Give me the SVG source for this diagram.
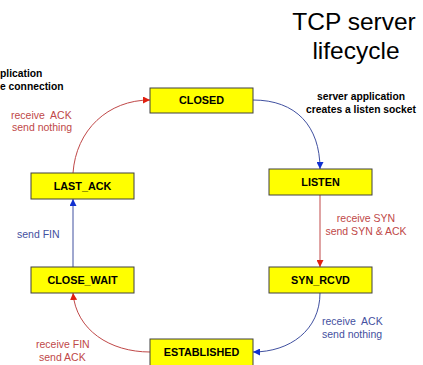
<svg xmlns="http://www.w3.org/2000/svg" width="423" height="365" viewBox="0 0 423 365">
  <style>
    .box { fill: #ffff00; stroke: #404040; stroke-width: 1; }
    .lbl { font-family: "Liberation Sans", Arial, sans-serif; font-size: 10.8px; font-weight: bold; fill: #000; text-anchor: middle; }
    .note { font-family: "Liberation Sans", Arial, sans-serif; font-size: 10.5px; }
    .red { fill: #c04848; }
    .blue { fill: #4450a0; }
    .bold { font-family: "Liberation Sans", Arial, sans-serif; font-size: 10.3px; font-weight: bold; fill: #000; }
    .title { font-family: "Liberation Sans", Arial, sans-serif; font-size: 24.5px; fill: #000; text-anchor: middle; }
    .cr { fill: none; stroke: #c04848; stroke-width: 1; }
    .cb { fill: none; stroke: #4050a0; stroke-width: 1; }
  </style>
  <defs>
    <marker id="ar" viewBox="0 0 10 10" refX="10" refY="5" markerWidth="7" markerHeight="7" orient="auto" markerUnits="userSpaceOnUse">
      <path d="M0,0 L10,5 L0,10 z" fill="#e02010"/>
    </marker>
    <marker id="ab" viewBox="0 0 10 10" refX="10" refY="5" markerWidth="7" markerHeight="7" orient="auto" markerUnits="userSpaceOnUse">
      <path d="M0,0 L10,5 L0,10 z" fill="#1030d0"/>
    </marker>
  </defs>

  <rect width="423" height="365" fill="#fff"/>

  <!-- title -->
  <text class="title" x="354" y="30">TCP server</text>
  <text class="title" x="356" y="59">lifecycle</text>

  <text class="bold" x="0" y="77">plication</text>
  <text class="bold" x="0" y="90">e connection</text>

  <text class="bold" x="361" y="100" text-anchor="middle">server application</text>
  <text class="bold" x="361" y="113" text-anchor="middle">creates a listen socket</text>

  <g id="connectors">
    <path class="cb" d="M253,100 C296,100 320,126 320,169" marker-end="url(#ab)"/>
    <path class="cr" d="M320,195 L320,267" marker-end="url(#ar)"/>
    <path class="cb" d="M320,293 C320,330 290,352 253,352" marker-end="url(#ab)"/>
    <path class="cr" d="M150,352 C110,352 76,330 73,293" marker-end="url(#ar)"/>
    <path class="cb" d="M73,267 L73,199" marker-end="url(#ab)"/>
    <path class="cr" d="M73,173 C76,130 108,100 150,100" marker-end="url(#ar)"/>
  </g>

  <g id="labels">
    <text class="note red" x="11" y="119" xml:space="preserve">receive  ACK</text>
    <text class="note red" x="12" y="131">send nothing</text>
    <text class="note blue" x="17" y="238">send FIN</text>
    <text class="note red" x="366" y="222" text-anchor="middle">receive SYN</text>
    <text class="note red" x="366" y="235" text-anchor="middle">send SYN &amp; ACK</text>
    <text class="note blue" x="322" y="325" xml:space="preserve">receive  ACK</text>
    <text class="note blue" x="322" y="338">send nothing</text>
    <text class="note red" x="36" y="348">receive FIN</text>
    <text class="note red" x="39" y="361">send ACK</text>
  </g>

  <g id="closed">
    <rect class="box" x="150" y="88" width="103" height="25"/>
    <text class="lbl" x="201.5" y="104">CLOSED</text>
  </g>
  <g id="listen">
    <rect class="box" x="269" y="169" width="103" height="26"/>
    <text class="lbl" x="320.5" y="186">LISTEN</text>
  </g>
  <g id="syn_rcvd">
    <rect class="box" x="269" y="267" width="103" height="26"/>
    <text class="lbl" x="320.5" y="284">SYN_RCVD</text>
  </g>
  <g id="established">
    <rect class="box" x="150" y="339" width="103" height="30"/>
    <text class="lbl" x="201.5" y="356">ESTABLISHED</text>
  </g>
  <g id="close_wait">
    <rect class="box" x="31" y="267" width="103" height="26"/>
    <text class="lbl" x="82.5" y="284">CLOSE_WAIT</text>
  </g>
  <g id="last_ack">
    <rect class="box" x="31" y="173" width="103" height="26"/>
    <text class="lbl" x="82.5" y="190">LAST_ACK</text>
  </g>
</svg>
